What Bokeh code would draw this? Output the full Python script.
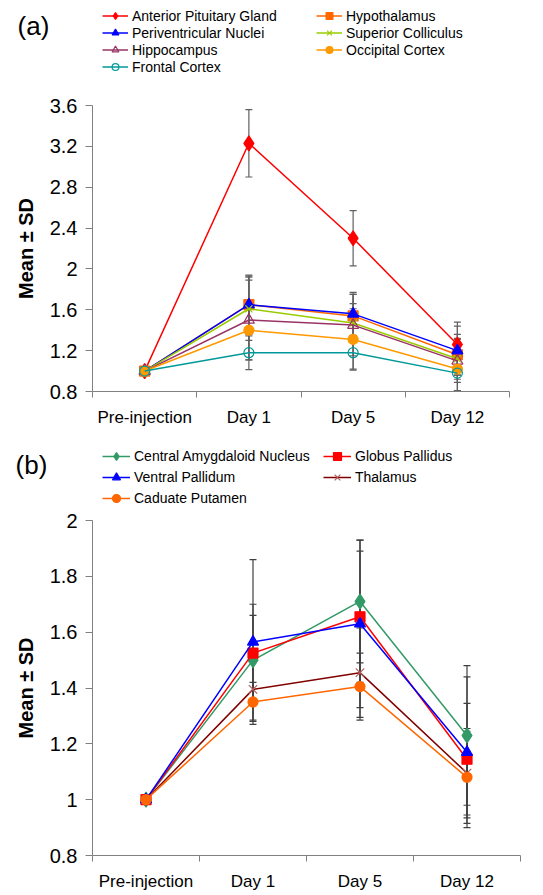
from bokeh.plotting import figure
from bokeh.models import (Range1d, FixedTicker, CustomJSTickFormatter, Whisker, TeeHead,
                          ColumnDataSource, Legend, LegendItem, Label)
from bokeh.layouts import column
from bokeh.embed import file_html
from bokeh.resources import INLINE

FONT = "Liberation Sans"
NAN = float("nan")

days = ["Pre-injection", "Day 1", "Day 5", "Day 12"]

# ---- panel (a) data ----
a_names = ["Anterior Pituitary Gland", "Hypothalamus", "Periventricular Nuclei",
           "Superior Colliculus", "Hippocampus", "Occipital Cortex", "Frontal Cortex"]
apg = [1.0, 3.23, 2.30, 1.26]
apg_sd = [0, 0.33, 0.27, 0.22]
hypothalamus = [1.0, 1.65, 1.54, 1.16]
hypothalamus_sd = [0, 0.29, 0.21, 0.20]
periventricular = [1.0, 1.65, 1.56, 1.20]
periventricular_sd = [0, 0.28, 0.21, 0.24]
sup_colliculus = [1.0, 1.61, 1.47, 1.12]
sup_colliculus_sd = [0, 0.31, 0.19, 0.20]
hippocampus = [1.0, 1.50, 1.45, 1.10]
hippocampus_sd = [0, 0.39, 0.30, 0.21]
occipital = [1.0, 1.40, 1.31, 1.02]
occipital_sd = [0, 0.29, 0.30, 0.21]
frontal = [1.0, 1.18, 1.18, 0.98]
frontal_sd = [0, 0.165, 0.16, 0.17]
a_ticks = [0.8, 1.2, 1.6, 2.0, 2.4, 2.8, 3.2, 3.6]

# ---- panel (b) data ----
b_names = ["Central Amygdaloid Nucleus", "Globus Pallidus", "Ventral Pallidum",
           "Thalamus", "Caduate Putamen"]
amygdaloid = [1.0, 1.50, 1.71, 1.23]
amygdaloid_sd = [0, 0.16, 0.22, 0.25]
globus = [1.0, 1.525, 1.655, 1.145]
globus_sd = [0, 0.175, 0.235, 0.20]
ventral = [1.0, 1.565, 1.63, 1.17]
ventral_sd = [0, 0.295, 0.30, 0.27]
thalamus = [1.0, 1.395, 1.455, 1.095]
thalamus_sd = [0, 0.11, 0.16, 0.16]
putamen = [1.0, 1.35, 1.405, 1.08]
putamen_sd = [0, 0.07, 0.12, 0.165]
b_ticks = [0.8, 1.0, 1.2, 1.4, 1.6, 1.8, 2.0]

a_styles = [
    dict(color="#FF0000", marker="diamond", size=15, fill="#FF0000", mline="#FF0000"),
    dict(color="#FF6600", marker="square", size=10, fill="#FF6600", mline="#FF6600"),
    dict(color="#0000FF", marker="triangle", size=11, fill="#0000FF", mline="#0000FF"),
    dict(color="#99CC00", marker="x", size=10, fill=None, mline="#99CC00"),
    dict(color="#993366", marker="triangle", size=11, fill=None, mline="#993366"),
    dict(color="#FF9900", marker="circle", size=10, fill="#FF9900", mline="#FF9900"),
    dict(color="#009999", marker="circle", size=10, fill=None, mline="#009999"),
]
b_styles = [
    dict(color="#339966", marker="diamond", size=15, fill="#339966", mline="#339966"),
    dict(color="#FF0000", marker="square", size=10, fill="#FF0000", mline="#FF0000"),
    dict(color="#0000FF", marker="triangle", size=11, fill="#0000FF", mline="#0000FF"),
    dict(color="#800000", marker="x", size=12, fill=None, mline="#B06060"),
    dict(color="#FF6600", marker="circle", size=10, fill="#FF6600", mline="#FF6600"),
]

W = 535


def make_header(names, styles, height, legend_cols, legend_top, row_h, spacing, glyph_w,
                tag, tag_pos):
    h = figure(width=W, height=height, x_range=Range1d(0, W), y_range=Range1d(0, height),
               x_axis_type=None, y_axis_type=None, output_backend="svg",
               toolbar_location=None, min_border=0, min_border_left=0, min_border_right=0,
               min_border_top=0, min_border_bottom=0, frame_align=False)
    h.outline_line_color = None
    h.grid.visible = False
    items = []
    for name, st in zip(names, styles):
        lr = h.line(x=[NAN], y=[NAN], line_color=st["color"], line_width=1.5)
        sr = h.scatter(x=[NAN], y=[NAN], marker=st["marker"], size=st["size"],
                       fill_color=st["fill"], line_color=st["mline"], line_width=1.2)
        items.append(LegendItem(label=name, renderers=[lr, sr]))
    for vx, idxs in legend_cols:
        n = len(idxs)
        leg_h = n * row_h + (n - 1) * spacing
        vy = height - legend_top - leg_h
        leg = Legend(items=[items[i] for i in idxs], location=(vx, vy),
                     orientation="vertical", border_line_color=None, background_fill_alpha=0,
                     padding=0, margin=0, spacing=spacing, glyph_width=glyph_w,
                     glyph_height=row_h, label_height=row_h, label_standoff=4,
                     label_text_font=FONT, label_text_font_size="14px",
                     label_text_color="black")
        h.add_layout(leg, "center")
    lbl = Label(x=tag_pos[0], y=height - tag_pos[1], x_units="screen", y_units="screen",
                text=tag, text_font=FONT, text_font_size="26px", text_align="center",
                text_baseline="middle", text_color="black")
    h.add_layout(lbl)
    return h


def make_panel(series, sds, styles, yticks, height, borders, err_color):
    left, right, top, bottom = borders
    p = figure(width=W, height=height, x_range=Range1d(0, len(days)),
               y_range=Range1d(yticks[0], yticks[-1]), output_backend="svg",
               toolbar_location=None, min_border_left=left, min_border_right=right,
               min_border_top=top, min_border_bottom=bottom, frame_align=False)
    p.outline_line_color = None
    p.grid.visible = False
    p.background_fill_color = "white"
    xs = [i + 0.5 for i in range(len(days))]

    # error bars (mean +/- SD)
    for vals, sd in zip(series, sds):
        bx = [x for x, s in zip(xs, sd) if s > 0]
        up = [v + s for v, s in zip(vals, sd) if s > 0]
        lo = [v - s for v, s in zip(vals, sd) if s > 0]
        src = ColumnDataSource(dict(base=bx, upper=up, lower=lo))
        w = Whisker(source=src, base="base", upper="upper", lower="lower",
                    line_color=err_color, line_width=1.2, level="underlay",
                    upper_head=TeeHead(size=7, line_color=err_color, line_width=1.2),
                    lower_head=TeeHead(size=7, line_color=err_color, line_width=1.2))
        p.add_layout(w)

    for vals, st in zip(series, styles):
        p.line(xs, vals, line_color=st["color"], line_width=1.5)
        p.scatter(xs, vals, marker=st["marker"], size=st["size"],
                  fill_color=st["fill"], line_color=st["mline"], line_width=1.2)

    # axes
    p.yaxis.ticker = FixedTicker(ticks=yticks)
    p.yaxis.formatter = CustomJSTickFormatter(code="return String(Math.round(tick*10)/10);")
    p.yaxis.major_label_text_font = FONT
    p.yaxis.major_label_text_font_size = "20px"
    p.yaxis.major_label_text_color = "black"
    p.yaxis.major_tick_out = 7
    p.yaxis.major_tick_in = 0
    p.yaxis.minor_tick_out = 0
    p.yaxis.major_label_standoff = 8
    p.yaxis.axis_label = "Mean \u00b1 SD"
    p.yaxis.axis_label_text_font = FONT
    p.yaxis.axis_label_text_font_style = "bold"
    p.yaxis.axis_label_text_font_size = "20px"
    p.yaxis.axis_label_text_color = "black"
    p.yaxis.axis_label_standoff = 10

    p.xaxis.ticker = FixedTicker(ticks=xs, minor_ticks=list(range(len(days) + 1)))
    p.xaxis.formatter = CustomJSTickFormatter(args=dict(labels=days),
                                              code="return labels[Math.floor(tick)] || '';")
    p.xaxis.major_label_text_font = FONT
    p.xaxis.major_label_text_font_size = "17px"
    p.xaxis.major_label_text_color = "black"
    p.xaxis.major_tick_out = 0
    p.xaxis.major_tick_in = 0
    p.xaxis.minor_tick_out = 6
    p.xaxis.minor_tick_in = 0
    p.xaxis.major_label_standoff = 10

    for ax in (p.xaxis, p.yaxis):
        ax.axis_line_color = "#808080"
        ax.major_tick_line_color = "#808080"
        ax.minor_tick_line_color = "#808080"
    return p


ha = make_header(a_names, a_styles, 85, [(102, [0, 2, 4, 6]), (316, [1, 3, 5])],
                 7, 17, 0, 26, "(a)", (33, 25))
pa = make_panel(
    [apg, hypothalamus, periventricular, sup_colliculus, hippocampus, occipital, frontal],
    [apg_sd, hypothalamus_sd, periventricular_sd, sup_colliculus_sd, hippocampus_sd,
     occipital_sd, frontal_sd],
    a_styles, a_ticks, 353, (92, 26, 20, 47), "#606060")

hb = make_header(b_names, b_styles, 70, [(102, [0, 2, 4]), (323, [1, 3])],
                 8, 20, 1, 28, "(b)", (31, 26))
pb = make_panel(
    [amygdaloid, globus, ventral, thalamus, putamen],
    [amygdaloid_sd, globus_sd, ventral_sd, thalamus_sd, putamen_sd],
    b_styles, b_ticks, 385, (92, 15, 12, 36), "#404040")

layout = column(ha, pa, hb, pb, spacing=0)
open("out.html", "w").write(file_html(layout, INLINE))
